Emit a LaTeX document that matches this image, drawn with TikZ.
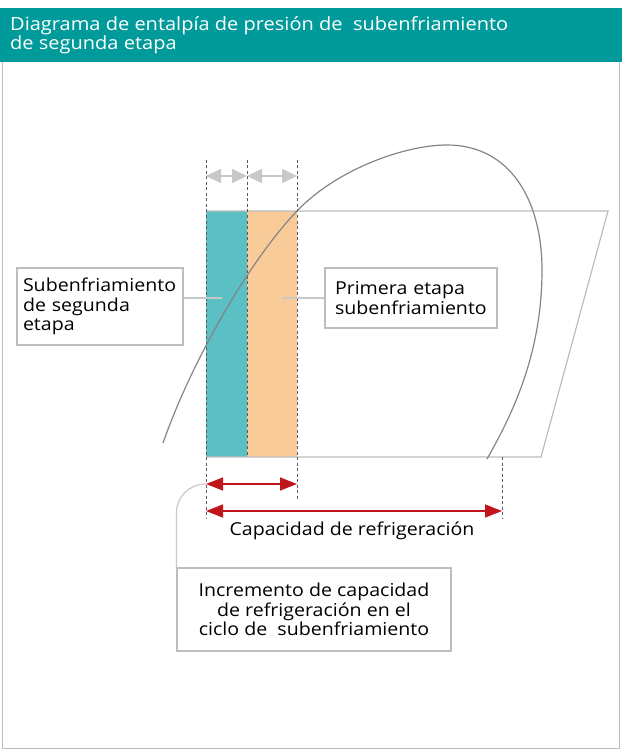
\documentclass[tikz,border=0pt]{standalone}
\usepackage{fontspec}
\setmainfont[FakeStretch=1.1]{Open Sans}
\usepackage{xcolor}
\usetikzlibrary{arrows.meta,positioning}

\definecolor{headteal}{HTML}{009A9A}
\definecolor{barteal}{HTML}{5BBFC3}
\definecolor{barorange}{HTML}{F9CB98}
\definecolor{framegray}{HTML}{BDBDBD}
\definecolor{leadgray}{HTML}{C8C8C8}
\definecolor{curvegray}{HTML}{858585}
\definecolor{arrowred}{HTML}{C0161B}

\tikzset{
  labelbox/.style={draw=framegray, line width=1.2pt, rectangle, inner sep=6pt, font=\fontsize{17.8}{19.5}\selectfont},
  leader/.style={draw=leadgray, line width=1.2pt},
  guide/.style={draw=black!65, line width=1pt, dash pattern=on 3pt off 2.5pt},
  subarrow/.style={draw=leadgray, line width=1.5pt, {Triangle[width=14pt,length=15pt]}-{Triangle[width=14pt,length=15pt]}},
  caparrow/.style={draw=arrowred, line width=1.5pt, {Triangle[width=13pt,length=17pt]}-{Triangle[width=13pt,length=17pt]}}
}

\begin{document}
\begin{tikzpicture}[x=1pt, y=-1pt]
    \useasboundingbox (0,0) rectangle (622,751);

    % Frame and header
    \draw[framegray, line width=1.2pt] (2.5,60) rectangle (619.5,748.5);
    \fill[headteal] (0,8.5) rectangle (622,62.5);
    \node[anchor=base west, align=left, text=white, inner sep=0pt,
          font=\fontsize{18.2}{18}\selectfont] (title) at (10,50)
        {Diagrama de entalpía de presión de \ subenfriamiento\\de segunda etapa};

    % Define coordinates
    \coordinate (h0) at (206,211);
    \coordinate (h1) at (247,211);
    \coordinate (h2) at (297,211);
    \coordinate (h3) at (608,211);
    \coordinate (l0) at (206,457);
    \coordinate (l1) at (247,457);
    \coordinate (l2) at (297,457);
    \coordinate (l3) at (541,457);

    % Subcooling bars
    \fill[barteal] (h0) rectangle (l1);
    \fill[barorange] (h1) rectangle (l2);

    % Cycle outline
    \draw[framegray, line width=1.2pt] (h0) -- (h3) -- (l3) -- (l0);

    % Guides
    \coordinate (g0) at (206,160);
    \coordinate (g1) at (247,160);
    \coordinate (g2) at (297,160);
    \coordinate (e0) at (206,518);
    \coordinate (e2) at (297,500);
    \coordinate (s3) at (502,457);
    \coordinate (e3) at (502,518);
    \draw[guide] (g0) -- (e0);
    \draw[guide] (g1) -- (l1);
    \draw[guide] (g2) -- (e2);
    \draw[guide] (s3) -- (e3);

    % Saturation dome
    \coordinate (d0) at (163,443);
    \coordinate (dtop) at (447,145);
    \coordinate (dright) at (542,270);
    \coordinate (d1) at (487,459);
    \draw[curvegray, line width=1.2pt] (d0) .. controls (192,360) and (250,260) .. (h2)
        .. controls (337,169) and (405,145) .. (dtop)
        .. controls (510,145) and (542,200) .. (dright)
        .. controls (542,350) and (515,410) .. (d1);

    % Top arrows
    \coordinate (t0) at (206,176);
    \coordinate (t1) at (247,176);
    \coordinate (t2) at (297,176);
    \draw[subarrow] (t0) -- (t1);
    \draw[subarrow] (t1) -- (t2);

    % Capacity arrows
    \coordinate (r0) at (206,484);
    \coordinate (r2) at (297,484);
    \coordinate (c0) at (206,511);
    \coordinate (c3) at (502,511);
    \draw[caparrow] (r0) -- (r2);
    \draw[caparrow] (c0) -- (c3);
    \node[font=\fontsize{17.8}{19.5}\selectfont] (cap) at (352,531) {Capacidad de refrigeración};

    % Define nodes
    \node[labelbox, minimum width=166pt, minimum height=77pt, text width=154pt, align=left] (second) at (100,306.5)
        {Subenfriamiento\\de segunda\\etapa};
    \node[labelbox, minimum width=172pt, minimum height=60pt, text width=152pt, inner sep=10pt, align=left] (first) at (411,298)
        {Primera etapa\\subenfriamiento};
    \node[labelbox, minimum width=274pt, minimum height=83pt, align=center] (gain) at (314,609.5)
        {Incremento de capacidad\\de refrigeración en el\\ciclo de \ subenfriamiento};

    % Define connections
    \coordinate (p1) at (222,298);
    \coordinate (p2) at (282,298);
    \draw[leader] (second.east |- p1) -- (p1);
    \draw[leader] (p2) -- (first.west);
    \draw[leader, rounded corners=29pt] (gain.north west) |- (r0);
\end{tikzpicture}
\end{document}
